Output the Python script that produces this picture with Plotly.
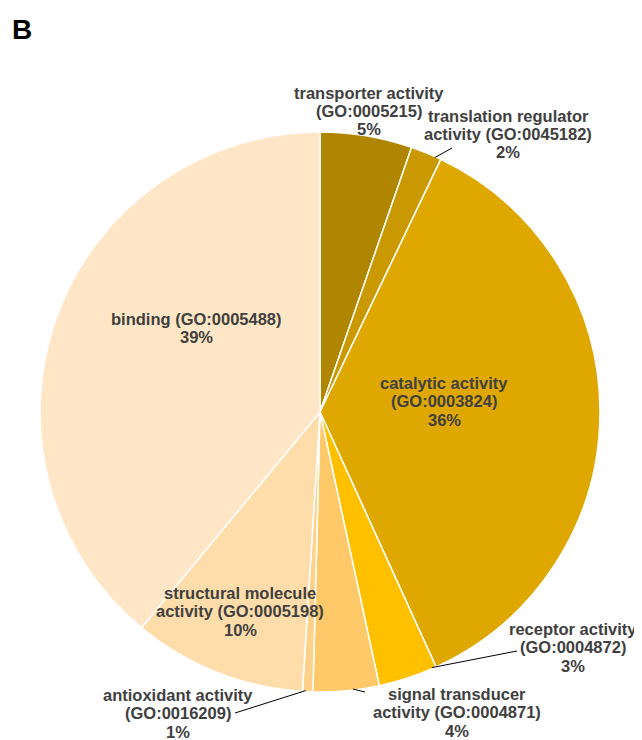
import math
import plotly.graph_objects as go

categories = [
    "transporter activity (GO:0005215)",
    "translation regulator activity (GO:0045182)",
    "catalytic activity (GO:0003824)",
    "receptor activity (GO:0004872)",
    "signal transducer activity (GO:0004871)",
    "antioxidant activity (GO:0016209)",
    "structural molecule activity (GO:0005198)",
    "binding (GO:0005488)",
]
# label text as displayed (wrapped lines)
label_lines = [
    ["transporter activity", "(GO:0005215)"],
    ["translation regulator", "activity (GO:0045182)"],
    ["catalytic activity", "(GO:0003824)"],
    ["receptor activity", "(GO:0004872)"],
    ["signal transducer", "activity (GO:0004871)"],
    ["antioxidant activity", "(GO:0016209)"],
    ["structural molecule", "activity (GO:0005198)"],
    ["binding (GO:0005488)"],
]
values = [5.3, 1.8, 36.1, 3.4, 3.8, 0.6, 10.0, 39.0]
colors = ["#B08500", "#CA9800", "#DEA800", "#FFC000",
          "#FFC868", "#FFD28C", "#FFDDAA", "#FFE6C6"]

# ---- layout / style (page pixel positions) ----
W, H = 642, 740
OFF = 8                       # page body margin
CX, CY, R = 320, 412, 280
LINE_H = 18.5
FONT = dict(family="Liberation Sans, Arial", size=16.5, color="#404040")
label_pos = [(369, 111), (508, 134), (444, 401), (573, 647),
             (457, 712), (178, 713), (240, 611), (197, 328)]
leader_end = [None, (452, 148), None, (517, 651),
              (365, 692), (235, 713), None, None]
tip_frac = [0.5, 0.8, 0.5, 0.07, 0.4, 0.7, 0.5, 0.5]


def fx(px):
    return (px - OFF) / W


def fy(py):
    return 1 - (py - OFF) / H


fig = go.Figure()
fig.add_trace(go.Pie(
    labels=categories, values=values, sort=False, direction="clockwise",
    rotation=0, marker=dict(colors=colors, line=dict(color="white", width=1.5)),
    textinfo="none", hoverinfo="label+percent", showlegend=False,
    domain=dict(x=[fx(CX - R), fx(CX + R)], y=[fy(CY + R), fy(CY - R)]),
))

total = sum(values)
annotations = []
shapes = []
cum = 0.0
for i, v in enumerate(values):
    pct = round(v / total * 100)
    lines = label_lines[i] + [f"{pct}%"]
    tx, ty = label_pos[i]
    n = len(lines)
    for k, ln in enumerate(lines):
        yy = ty + (k - (n - 1) / 2) * LINE_H
        annotations.append(dict(
            x=fx(tx), y=fy(yy), xref="paper", yref="paper",
            text=f"<b>{ln}</b>", showarrow=False,
            xanchor="center", yanchor="middle", font=FONT,
        ))
    if leader_end[i] is not None:
        ang = 2 * math.pi * (cum + v * tip_frac[i]) / total
        px = CX + (R - 1) * math.sin(ang)
        py = CY - (R - 1) * math.cos(ang)
        ex, ey = leader_end[i]
        shapes.append(dict(
            type="line", xref="paper", yref="paper",
            x0=fx(px), y0=fy(py), x1=fx(ex), y1=fy(ey),
            line=dict(color="black", width=1),
        ))
    cum += v

annotations.append(dict(
    x=fx(22), y=fy(29), xref="paper", yref="paper", text="<b>B</b>",
    showarrow=False, xanchor="center", yanchor="middle",
    font=dict(family="Liberation Sans, Arial", size=28, color="black"),
))

fig.update_layout(
    width=W, height=H, margin=dict(l=0, r=0, t=0, b=0),
    paper_bgcolor="white", plot_bgcolor="white",
    annotations=annotations, shapes=shapes,
)
fig.write_html("out.html")
